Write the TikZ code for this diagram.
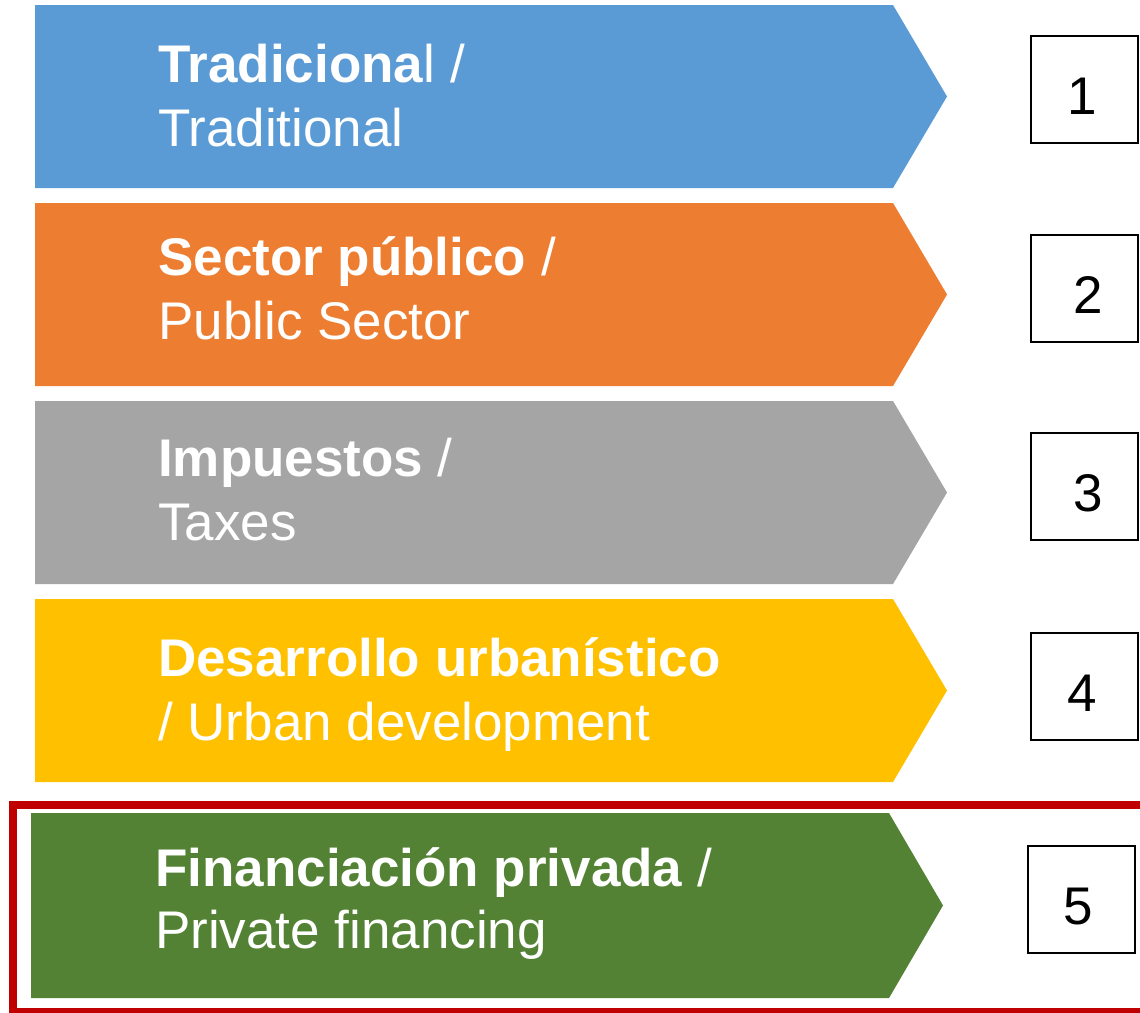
\documentclass[tikz,border=0pt]{standalone}
\usepackage{fontspec}
\setmainfont{Liberation Sans}
\definecolor{cblue}{HTML}{5B9BD5}
\definecolor{corange}{HTML}{ED7D31}
\definecolor{cgray}{HTML}{A5A5A5}
\definecolor{cyellow}{HTML}{FFC000}
\definecolor{cgreen}{HTML}{548235}
\definecolor{cred}{HTML}{C00000}
\newcommand{\numtxt}[2]{\hspace*{#1}#2}
\tikzset{
  bandtxt/.style={anchor=base west, inner sep=0pt, text=white, font=\fontsize{53}{63}\selectfont},
  numbox/.style={draw=black, line width=2pt, minimum width=107pt, minimum height=107pt, inner sep=0pt, text height=50pt, text depth=0pt, font=\fontsize{53}{63}\selectfont},
  frame/.style={draw=cred, line width=8pt}
}
\begin{document}
\begin{tikzpicture}[x=1pt,y=-1pt]
\useasboundingbox (0,0) rectangle (1140,1012);
\fill[white] (0,0) rectangle (1140,1012);
% arrows
\fill[cblue]   (35,5)   -- (893,5)   -- (947,96.5)  -- (893,188) -- (35,188) -- cycle;
\fill[corange] (35,203) -- (893,203) -- (947,294.5) -- (893,386) -- (35,386) -- cycle;
\fill[cgray]   (35,401) -- (893,401) -- (947,492.5) -- (893,584) -- (35,584) -- cycle;
\fill[cyellow] (35,599) -- (893,599) -- (947,690.5) -- (893,782) -- (35,782) -- cycle;
\fill[cgreen]  (31,813) -- (889,813) -- (943,905.5) -- (889,998) -- (31,998) -- cycle;
% red frame
\draw[frame] (13,805) rectangle (1160,1012);
% texts
\node[bandtxt] (t1a) at (158,82)  {\textbf{Tradiciona}l /};
\node[bandtxt] (t1b) at (158,146) {Traditional};
\node[bandtxt] (t2a) at (158,275) {\textbf{Sector público} /};
\node[bandtxt] (t2b) at (158,339) {Public Sector};
\node[bandtxt] (t3a) at (158,476) {\textbf{Impuestos} /};
\node[bandtxt] (t3b) at (158,540) {Taxes};
\node[bandtxt] (t4a) at (158,676) {\textbf{Desarrollo urbanístico}};
\node[bandtxt] (t4b) at (158,740) {/ Urban development};
\node[bandtxt] (t5a) at (155,886) {\textbf{Financiación privada} /};
\node[bandtxt] (t5b) at (155,948) {Private financing};
% number boxes
\node[numbox] (n1) at (1084.5,89.5)  {\numtxt{-4pt}{1}};
\node[numbox] (n2) at (1084.5,288)   {\numtxt{8pt}{2}};
\node[numbox] (n3) at (1084.5,486.5) {\numtxt{8pt}{3}};
\node[numbox] (n4) at (1084.5,686.5) {\numtxt{-4pt}{4}};
\node[numbox] (n5) at (1081.5,899.5) {\numtxt{-6pt}{5}};
\end{tikzpicture}
\end{document}
